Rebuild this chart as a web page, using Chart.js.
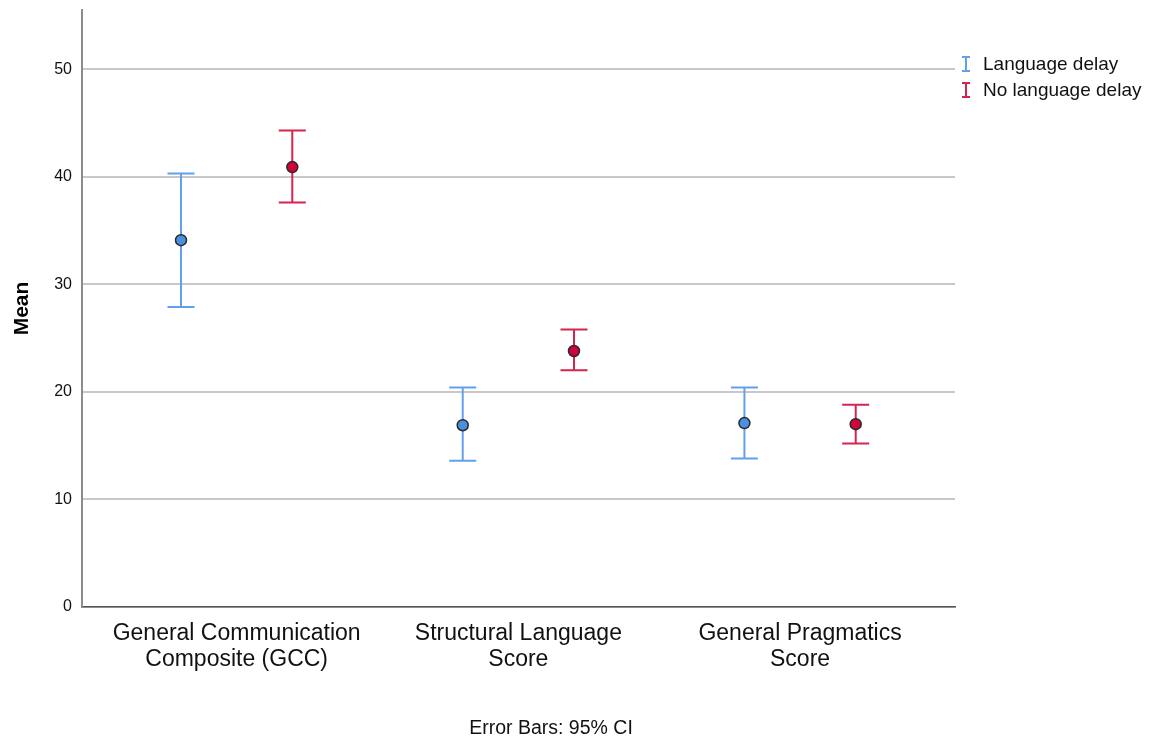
<!DOCTYPE html>
<html>
<head>
<meta charset="utf-8">
<script src="https://cdn.jsdelivr.net/npm/chart.js@4"></script>
<style>
  body { margin: 0; background: #fff; }
  #wrap { width: 1150px; height: 741px; }
</style>
</head>
<body>
<div id="wrap"><canvas id="myChart"></canvas></div>
<script>
// data
const categories = [
  ['General Communication', 'Composite (GCC)'],
  ['Structural Language', 'Score'],
  ['General Pragmatics', 'Score']
];
const seriesNames = ['Language delay', 'No language delay'];
const delayMean = [34.1, 16.9, 17.1];
const delayLow = [27.9, 13.6, 13.8];
const delayHigh = [40.3, 20.4, 20.4];
const noDelayMean = [40.9, 23.8, 17.0];
const noDelayLow = [37.6, 22.0, 15.2];
const noDelayHigh = [44.3, 25.8, 18.8];
const yTicks = [0, 10, 20, 30, 40, 50];

const blueLine = '#63a0ec';
const redLine = '#d5254f';
const shift = 0.1975; // half the gap between the two groups, in category units
const fontName = 'Arial, "Liberation Sans", sans-serif';

function points(means, lows, highs, dir) {
  return means.map((m, i) => ({ x: i + 1 + dir * shift, y: m, lo: lows[i], hi: highs[i] }));
}

// error bars under the points
const errorBars = {
  id: 'errorBars',
  beforeDatasetsDraw(chart) {
    const ctx = chart.ctx;
    const xs = chart.scales.x, ys = chart.scales.y;
    chart.data.datasets.forEach(ds => {
      ctx.save();
      ctx.strokeStyle = ds.barColor;
      ctx.lineWidth = 2;
      ds.data.forEach(p => {
        const x = xs.getPixelForValue(p.x);
        const y1 = ys.getPixelForValue(p.lo);
        const y2 = ys.getPixelForValue(p.hi);
        ctx.beginPath();
        ctx.moveTo(x, y1); ctx.lineTo(x, y2);
        ctx.moveTo(x - 13.5, y1); ctx.lineTo(x + 13.5, y1);
        ctx.moveTo(x - 13.5, y2); ctx.lineTo(x + 13.5, y2);
        ctx.stroke();
      });
      ctx.restore();
    });
  },
  afterDraw(chart) {
    const ctx = chart.ctx;
    ctx.save();
    // legend
    chart.data.datasets.forEach((ds, i) => {
      const cy = 64 + i * 26;
      ctx.strokeStyle = ds.barColor;
      ctx.lineWidth = 2;
      ctx.beginPath();
      ctx.moveTo(966, cy - 7); ctx.lineTo(966, cy + 7);
      ctx.moveTo(962, cy - 7); ctx.lineTo(970, cy - 7);
      ctx.moveTo(962, cy + 7); ctx.lineTo(970, cy + 7);
      ctx.stroke();
      ctx.fillStyle = '#111';
      ctx.font = '19px ' + fontName;
      ctx.textBaseline = 'middle';
      ctx.textAlign = 'left';
      ctx.fillText(ds.label, 983, cy + 1);
    });
    // footnote
    ctx.fillStyle = '#111';
    ctx.font = '19.5px ' + fontName;
    ctx.textAlign = 'center';
    ctx.textBaseline = 'middle';
    ctx.fillText('Error Bars: 95% CI', 551, 729);
    ctx.restore();
  }
};

const config = {
  type: 'scatter',
  data: {
    datasets: [
      {
        label: seriesNames[0],
        data: points(delayMean, delayLow, delayHigh, -1),
        barColor: blueLine,
        backgroundColor: '#4a8fe0',
        borderColor: '#2a2a2a',
        borderWidth: 1.5,
        pointRadius: 5.5
      },
      {
        label: seriesNames[1],
        data: points(noDelayMean, noDelayLow, noDelayHigh, 1),
        barColor: redLine,
        backgroundColor: '#d0033a',
        borderColor: '#2a2a2a',
        borderWidth: 1.5,
        pointRadius: 5.5
      }
    ]
  },
  options: {
    responsive: true,
    maintainAspectRatio: false,
    animation: false,
    layout: { padding: { top: 10, right: 195, left: 0, bottom: 0 } },
    plugins: {
      legend: { display: false },
      tooltip: { enabled: false }
    },
    scales: {
      x: {
        type: 'linear',
        min: 0.451,
        max: 3.55,
        afterFit: s => { s.height = 134; s.paddingLeft = 0; s.paddingRight = 0; },
        afterBuildTicks: s => { s.ticks = categories.map((c, i) => ({ value: i + 1 })); },
        grid: { display: false },
        border: { display: true, color: '#555', width: 1.5 },
        ticks: {
          padding: 6,
          color: '#111',
          maxRotation: 0,
          font: { family: fontName, size: 23, lineHeight: 1.12 },
          callback: v => categories[Math.round(v) - 1]
        }
      },
      y: {
        min: 0,
        max: 55.5,
        afterFit: s => { s.width = 82; s.paddingTop = 0; s.paddingBottom = 0; },
        afterBuildTicks: s => { s.ticks = yTicks.map(v => ({ value: v })); },
        grid: { color: '#c8c8c8', lineWidth: 2, drawTicks: false },
        border: { display: true, color: '#8c8c8c', width: 2 },
        ticks: {
          padding: 10,
          color: '#111',
          font: { family: fontName, size: 16 }
        },
        title: {
          display: true,
          text: 'Mean',
          color: '#000',
          padding: { top: 10, bottom: 0 },
          font: { family: fontName, size: 21, weight: 'bold' }
        }
      }
    }
  },
  plugins: [errorBars]
};

const myChart = new Chart(document.getElementById('myChart'), config);
</script>
</body>
</html>
